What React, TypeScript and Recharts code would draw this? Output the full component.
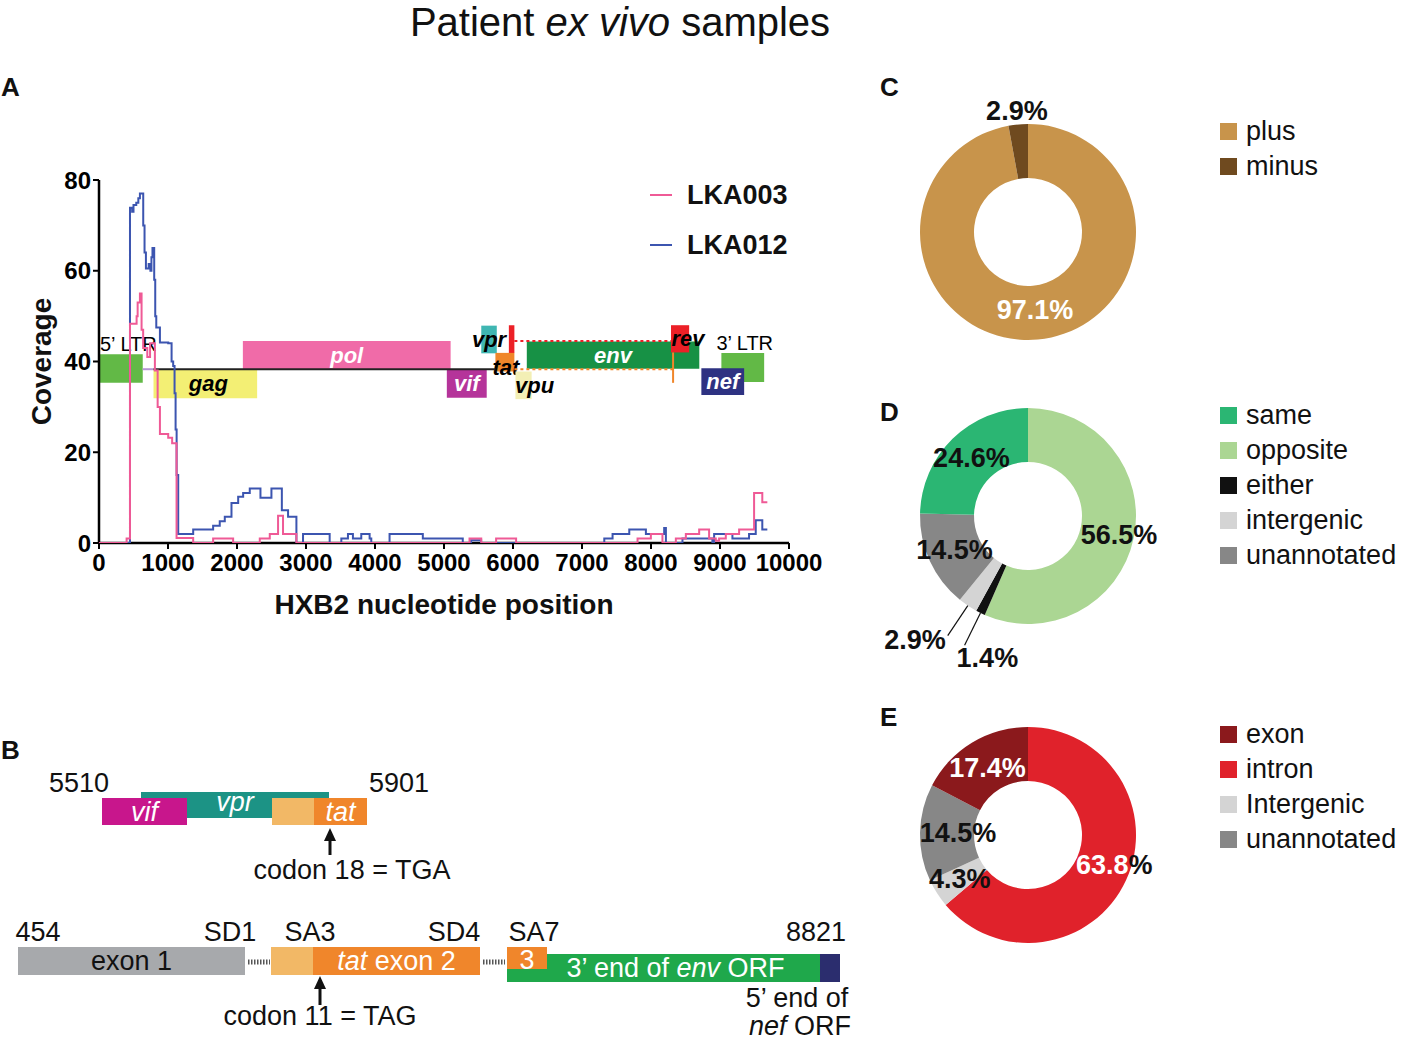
import React from 'react';
import {
  LineChart, Line, XAxis, YAxis, ReferenceArea, ReferenceLine, ReferenceDot, Legend,
  PieChart, Pie, Cell, ComposedChart,
} from 'recharts';

const FONT = '"Liberation Sans", Arial, Helvetica, sans-serif';

// ---- Panel A: read coverage along HXB2 (step positions / depth) ----
const lka003Pos = [0, 400, 449, 545, 560, 593, 617, 640, 700, 740, 810, 850, 883, 1003, 1060, 1124, 1365, 1654, 1944, 2330, 2475, 2595, 2667, 2861, 5370, 5540, 5755, 6045, 7805, 7998, 8166, 8360, 8505, 8698, 8842, 8939, 8987, 9084, 9277, 9494, 9613, 9686];
const lka003Cov = [0, 1, 48.3, 50, 53, 55, 47, 43, 41, 44, 38, 30, 24, 23.2, 22, 1.1, 0, 1, 0, 1, 2, 6, 2, 0, 1, 0, 1, 0, 1, 2, 0, 1, 2, 3, 1, 0.5, 1, 2, 3, 11, 9, 9];

const lka012Pos = [0, 449, 480, 500, 540, 570, 593, 641, 660, 680, 720, 745, 760, 775, 800, 815, 830, 883, 1003, 1052, 1075, 1095, 1110, 1125, 1148, 1365, 1654, 1750, 1823, 1920, 2017, 2089, 2185, 2340, 2499, 2650, 2740, 2861, 2957, 3343, 3512, 3608, 3680, 3801, 3922, 3946, 4211, 4693, 5272, 5393, 5538, 7323, 7443, 7685, 7926, 8191, 8216, 8456, 8890, 8915, 9180, 9421, 9518, 9613, 9686];
const lka012Cov = [0, 73.9, 73, 74.5, 75, 76, 77, 70, 64, 60.5, 61.5, 60, 63, 65, 58, 50, 47.5, 44.2, 44, 40, 39, 33, 25, 15, 2, 3, 3.8, 4.8, 5.8, 8.8, 10.2, 11, 12, 10, 12, 7.2, 5.8, 0, 2, 0, 1, 2, 1, 2, 1, 0, 2, 1, 0, 0.6, 0, 1, 2, 3, 2, 3.3, 0, 1, 0, 2, 1, 2, 5, 3, 3];

const xTicks = [0, 1000, 2000, 3000, 4000, 5000, 6000, 7000, 8000, 9000, 10000];
const yTicks = [0, 20, 40, 60, 80];

const lka003 = lka003Pos.map((pos, i) => ({ pos, cov: lka003Cov[i] }));
const lka012 = lka012Pos.map((pos, i) => ({ pos, cov: lka012Cov[i] }));

// genome map drawn over the coverage axis (HXB2 start/end, lo/hi on coverage scale)
const genes = [
  { id: 'ltr5', start: 0, end: 634, lo: 35.3, hi: 41.6 },
  { id: 'gag', start: 790, end: 2292, lo: 31.9, hi: 38.3 },
  { id: 'pol', start: 2085, end: 5096, lo: 38.3, hi: 44.5 },
  { id: 'vif', start: 5041, end: 5619, lo: 32.0, hi: 38.3 },
  { id: 'vpr', start: 5540, end: 5765, lo: 41.8, hi: 47.9 },
  { id: 'rev1', start: 5940, end: 6020, lo: 41.9, hi: 48.0 },
  { id: 'tat', start: 5745, end: 6020, lo: 37.8, hi: 41.9 },
  { id: 'vpu', start: 6035, end: 6270, lo: 31.7, hi: 37.8 },
  { id: 'env', start: 6200, end: 8700, lo: 38.4, hi: 44.4 },
  { id: 'rev', start: 8290, end: 8553, lo: 42.0, hi: 48.0 },
  { id: 'ltr3', start: 9020, end: 9640, lo: 35.5, hi: 41.9 },
  { id: 'nef', start: 8730, end: 9350, lo: 32.6, hi: 38.5 },
];
const connectors = [
  { from: 634, to: 790, at: 38.3, color: '#b696d6', dash: undefined },
  { from: 790, to: 5745, at: 38.3, color: '#222', dash: undefined },
  { from: 6020, to: 8290, at: 44.5, color: '#ec2027', dash: '3 3' },
  { from: 6020, to: 8320, at: 38.3, color: '#f0862a', dash: '3 3' },
];

const geneColor: Record<string, string> = {
  ltr5: '#62b946', gag: '#f3ef74', pol: '#f06ba8', vif: '#b5349a', vpr: '#3fb6b2', rev1: '#ec2027',
  tat: '#f0862a', vpu: '#f3efb5', env: '#179145', rev: '#ec2027', nef: '#2e3282', ltr3: '#62b946',
};
type GeneText = { text: string; fill: string; plain?: boolean; above?: boolean; dx?: number; dy?: number };
const geneText: Record<string, GeneText> = {
  ltr5: { text: '5’ LTR', fill: '#000', plain: true, above: true, dx: 1 },
  gag: { text: 'gag', fill: '#000', dx: 3 },
  pol: { text: 'pol', fill: '#fff' },
  vif: { text: 'vif', fill: '#fff' },
  vpr: { text: 'vpr', fill: '#000' },
  tat: { text: 'tat', fill: '#000', dx: 1, dy: 5 },
  vpu: { text: 'vpu', fill: '#000', dx: 11 },
  env: { text: 'env', fill: '#fff' },
  rev: { text: 'rev', fill: '#000', dx: 8 },
  nef: { text: 'nef', fill: '#fff' },
  ltr3: { text: '3’ LTR', fill: '#000', plain: true, above: true, dx: -5 },
};

const geneLabel = (id: string) => (props: any) => {
  const t = geneText[id];
  if (!t || !props.viewBox) return null;
  const { x, y, width, height } = props.viewBox;
  const tx = t.above ? x + (t.dx ?? 0) : x + width / 2 + (t.dx ?? 0);
  const ty = t.above ? y - 10 : y + height / 2 + (t.dy ?? 0);
  return (
    <text x={tx} y={ty} textAnchor={t.above ? 'start' : 'middle'} dominantBaseline="central"
      fill={t.fill} fontFamily={FONT} fontSize={t.plain ? 20 : 22}
      fontStyle={t.plain ? 'normal' : 'italic'} fontWeight={t.plain ? 400 : 700}>
      {t.text}
    </text>
  );
};

const seriesA = [
  { name: 'LKA003', color: '#ef5a96' },
  { name: 'LKA012', color: '#3c55b0' },
];

const legendA = () => (
  <div style={{ fontFamily: FONT }}>
    {seriesA.map(s => (
      <div key={s.name} style={{ display: 'flex', alignItems: 'center', height: 50 }}>
        <span style={{ width: 22, height: 2, background: s.color, marginRight: 15 }} />
        <span style={{ fontSize: 27, fontWeight: 700, color: '#111' }}>{s.name}</span>
      </div>
    ))}
  </div>
);

// ---- Panels C-E: donut charts ----
const strandNames = ['plus', 'minus'];
const strandPct = [97.1, 2.9];
const strandOrder = [0, 1];

const orientNames = ['same', 'opposite', 'either', 'intergenic', 'unannotated'];
const orientPct = [24.6, 56.5, 1.4, 2.9, 14.5];
const orientOrder = [1, 2, 3, 4, 0];

const regionNames = ['exon', 'intron', 'Intergenic', 'unannotated'];
const regionPct = [17.4, 63.8, 4.3, 14.5];
const regionOrder = [1, 2, 3, 0];

const sliceColor: Record<string, string> = {
  plus: '#c8944b', minus: '#6f4a1f',
  same: '#2bb673', opposite: '#abd693', either: '#111111', intergenic: '#d4d4d4', unannotated: '#878787',
  exon: '#8b191c', intron: '#e0222b', Intergenic: '#d4d4d4',
};

type Spec = { r?: number; fill: string; pctFill?: string; leader?: boolean; anchor?: 'start' | 'end'; dx?: number; dy?: number };
const strandSpecs: Record<string, Spec> = {
  plus: { r: 78, fill: '#fff' },
  minus: { r: 122, fill: '#111' },
};
const orientSpecs: Record<string, Spec> = {
  opposite: { r: 93, fill: '#111' },
  either: { leader: true, fill: '#111', anchor: 'start', dx: -8, dy: 13 },
  intergenic: { leader: true, fill: '#111', anchor: 'end', dx: -2, dy: 4 },
  unannotated: { r: 81, fill: '#111' },
  same: { r: 81, fill: '#111' },
};
const regionSpecs: Record<string, Spec> = {
  intron: { r: 95, fill: '#fff', pctFill: '#111', dy: -10 },
  Intergenic: { r: 81, fill: '#111' },
  unannotated: { r: 70, fill: '#111' },
  exon: { r: 78, fill: '#fff' },
};

const RAD = Math.PI / 180;
const polar = (cx: number, cy: number, r: number, a: number) => ({ x: cx + r * Math.cos(-a * RAD), y: cy + r * Math.sin(-a * RAD) });

function Donut({ names, values, order, specs, top }: { names: string[]; values: number[]; order: number[]; specs: Record<string, Spec>; top: number }) {
  const data = order.map(i => ({ name: names[i], value: values[i] }));
  const renderLabel = (p: any) => {
    const d = data[p.index];
    const s = specs[d.name];
    const txt = d.value.toFixed(1);
    let x: number, y: number;
    const anchor: string = s.anchor ?? 'middle';
    let line: React.ReactNode = null;
    if (s.leader) {
      const a = polar(p.cx, p.cy, p.outerRadius, p.midAngle);
      const b = polar(p.cx, p.cy, p.outerRadius + 36, p.midAngle);
      line = <line x1={a.x} y1={a.y} x2={b.x} y2={b.y} stroke="#111" strokeWidth={1.2} />;
      x = b.x + (s.dx ?? 0);
      y = b.y + (s.dy ?? 0);
    } else {
      const c = polar(p.cx, p.cy, s.r ?? 81, p.midAngle);
      x = c.x + (s.dx ?? 0);
      y = c.y + (s.dy ?? 0);
    }
    return (
      <g key={`lab-${p.index}`}>
        {line}
        <text x={x} y={y} textAnchor={anchor} dominantBaseline="central" fontFamily={FONT}
          fontSize={27} fontWeight={700} fill={s.fill}>
          {txt}<tspan fill={s.pctFill ?? s.fill}>%</tspan>
        </text>
      </g>
    );
  };
  const legend = () => (
    <div style={{ fontFamily: FONT }}>
      {names.map(n => (
        <div key={n} style={{ display: 'flex', alignItems: 'center', height: 35 }}>
          <span style={{ width: 17, height: 17, background: sliceColor[n], marginRight: 9 }} />
          <span style={{ fontSize: 27, color: '#111', whiteSpace: 'nowrap' }}>{n}</span>
        </div>
      ))}
    </div>
  );
  return (
    <div style={{ position: 'absolute', left: 880, top }}>
      <PieChart width={523} height={310} margin={{ top: 0, right: 0, bottom: 0, left: 0 }}>
        <Pie data={data} dataKey="value" nameKey="name" cx={148} cy={145} innerRadius={54} outerRadius={108}
          startAngle={90} endAngle={-270} stroke="none" label={renderLabel} labelLine={false}
          isAnimationActive={false}>
          {data.map(d => <Cell key={d.name} fill={sliceColor[d.name]} />)}
        </Pie>
        <Legend layout="vertical" align="center" verticalAlign="middle" content={legend}
          wrapperStyle={{ left: 340, top: 27, width: 190 }} />
      </PieChart>
    </div>
  );
}

// ---- Panel B: splicing schematic (schematic units) ----
type Seg = [string, boolean];
const bBlocks: { x1: number; x2: number; y1: number; y2: number; fill: string; label?: Seg[]; color?: string; dx?: number; dy?: number }[] = [
  { x1: 141, x2: 329, y1: 52, y2: 78, fill: '#1c9385', label: [['vpr', true]], color: '#fff', dy: -3 },
  { x1: 102, x2: 187, y1: 58, y2: 85, fill: '#c8168c', label: [['vif', true]], color: '#fff' },
  { x1: 272, x2: 314, y1: 58, y2: 85, fill: '#f2b866' },
  { x1: 314, x2: 367, y1: 58, y2: 85, fill: '#f0862b', label: [['tat', true]], color: '#fff' },
  { x1: 18, x2: 245, y1: 207, y2: 235, fill: '#a7a9ac', label: [['exon 1', false]], color: '#111', dx: 0 },
  { x1: 271, x2: 313, y1: 207, y2: 235, fill: '#f2b866' },
  { x1: 313, x2: 480, y1: 207, y2: 235, fill: '#f0862b', label: [['tat', true], [' exon 2', false]], color: '#fff' },
  { x1: 507, x2: 820, y1: 214, y2: 242, fill: '#1fa84b', label: [['3’ end of ', false], ['env', true], [' ORF', false]], color: '#fff', dx: 12 },
  { x1: 820, x2: 840, y1: 214, y2: 242, fill: '#2b2d6e' },
  { x1: 507, x2: 547, y1: 207, y2: 229, fill: '#f0862b', label: [['3', false]], color: '#fff', dy: 2 },
];
const bGaps = [
  { from: 248, to: 270, at: 222 },
  { from: 483, to: 505, at: 222 },
];
const bArrows = [
  { x: 330, tail: 115, tip: 88 },
  { x: 320, tail: 265, tip: 236 },
];
const bTexts: { x: number; y: number; segs: Seg[] }[] = [
  { x: 79, y: 43, segs: [['5510', false]] },
  { x: 399, y: 43, segs: [['5901', false]] },
  { x: 352, y: 130, segs: [['codon 18 = TGA', false]] },
  { x: 38, y: 192, segs: [['454', false]] },
  { x: 230, y: 192, segs: [['SD1', false]] },
  { x: 310, y: 192, segs: [['SA3', false]] },
  { x: 454, y: 192, segs: [['SD4', false]] },
  { x: 534, y: 192, segs: [['SA7', false]] },
  { x: 816, y: 192, segs: [['8821', false]] },
  { x: 320, y: 276, segs: [['codon 11 = TAG', false]] },
  { x: 797, y: 258, segs: [['5’ end of', false]] },
  { x: 800, y: 286, segs: [['nef', true], [' ORF', false]] },
];

const segText = (x: number, y: number, segs: Seg[], fill: string) => (
  <text x={x} y={y} textAnchor="middle" dominantBaseline="central" fontFamily={FONT} fontSize={27} fill={fill}>
    {segs.map(([t, it], i) => <tspan key={i} fontStyle={it ? 'italic' : 'normal'}>{t}</tspan>)}
  </text>
);

function PanelB() {
  return (
    <div style={{ position: 'absolute', left: 0, top: 740 }}>
      <ComposedChart width={870} height={303} data={[]} margin={{ top: 0, right: 0, bottom: 0, left: 0 }}>
        <XAxis type="number" dataKey="x" domain={[0, 870]} hide allowDataOverflow />
        <YAxis type="number" dataKey="y" domain={[0, 303]} reversed hide allowDataOverflow />
        {bBlocks.map((b, i) => (
          <ReferenceArea key={`b${i}`} x1={b.x1} x2={b.x2} y1={b.y1} y2={b.y2} fill={b.fill} fillOpacity={1}
            stroke="none" ifOverflow="visible"
            label={b.label ? (p: any) => segText(p.viewBox.x + p.viewBox.width / 2 + (b.dx ?? 0), p.viewBox.y + p.viewBox.height / 2 + (b.dy ?? 0), b.label!, b.color!) : undefined} />
        ))}
        {bGaps.map((g, i) => (
          <ReferenceLine key={`g${i}`} segment={[{ x: g.from, y: g.at }, { x: g.to, y: g.at }]} stroke="#555"
            strokeWidth={5} strokeDasharray="1.5 1.5" ifOverflow="visible" />
        ))}
        {bArrows.map((a, i) => (
          <ReferenceLine key={`as${i}`} segment={[{ x: a.x, y: a.tail }, { x: a.x, y: a.tip + 10 }]} stroke="#111"
            strokeWidth={3} ifOverflow="visible" />
        ))}
        {bArrows.map((a, i) => (
          <ReferenceDot key={`ah${i}`} x={a.x} y={a.tip} r={1} ifOverflow="visible"
            shape={(p: any) => <polygon points={`${p.cx},${p.cy} ${p.cx - 6},${p.cy + 13} ${p.cx + 6},${p.cy + 13}`} fill="#111" />} />
        ))}
        {bTexts.map((t, i) => (
          <ReferenceDot key={`t${i}`} x={t.x} y={t.y} r={1} fill="none" stroke="none" ifOverflow="visible"
            label={(p: any) => segText(p.viewBox.x + p.viewBox.width / 2, p.viewBox.y + p.viewBox.height / 2, t.segs, '#111')} />
        ))}
      </ComposedChart>
    </div>
  );
}

const letter = (ch: string, left: number, top: number) => (
  <div style={{ position: 'absolute', left, top, fontFamily: FONT, fontWeight: 700, fontSize: 26, lineHeight: '26px', color: '#111' }}>{ch}</div>
);

const chartA = { width: 840, height: 640, margin: { top: 180, right: 51, bottom: 37, left: 30 } };

export default function App() {
  const axisStyle = { fill: '#000', fontSize: 24, fontWeight: 700, fontFamily: FONT };
  return (
    <div style={{ position: 'absolute', left: 0, top: 0, width: 1403, height: 1043, background: '#fff', fontFamily: FONT, overflow: 'hidden' }}>
      <div style={{ position: 'absolute', left: 0, width: 1240, top: 0, textAlign: 'center', fontSize: 40, lineHeight: 'normal', color: '#111', whiteSpace: 'nowrap' }}>
        Patient <i>ex vivo</i> samples
      </div>
      {letter('A', 1, 74)}
      {letter('B', 1, 737)}
      {letter('C', 880, 74)}
      {letter('D', 880, 399)}
      {letter('E', 880, 704)}

      {/* axes and genome map */}
      <div style={{ position: 'absolute', left: 0, top: 0 }}>
        <LineChart {...chartA}>
          <XAxis dataKey="pos" type="number" domain={[0, 10000]} ticks={xTicks} interval={0} allowDataOverflow
            axisLine={{ stroke: '#000', strokeWidth: 2.5 }} tickLine={{ stroke: '#000', strokeWidth: 2 }}
            tickSize={6} tickMargin={5} tick={axisStyle} height={60}
            label={{ value: 'HXB2 nucleotide position', position: 'insideBottom', offset: -11, fill: '#111', fontSize: 28, fontWeight: 700, fontFamily: FONT }} />
          <YAxis type="number" domain={[0, 80]} ticks={yTicks} interval={0} width={69} allowDataOverflow
            axisLine={{ stroke: '#000', strokeWidth: 2.5 }} tickLine={{ stroke: '#000', strokeWidth: 2 }}
            tickSize={6} tick={axisStyle}
            label={{ value: 'Coverage', angle: -90, position: 'insideLeft', offset: 11, fill: '#111', fontSize: 28, fontWeight: 700, fontFamily: FONT, style: { textAnchor: 'middle' } }} />
          {genes.map(g => (
            <ReferenceArea key={g.id} x1={g.start} x2={g.end} y1={g.lo} y2={g.hi} fill={geneColor[g.id]}
              fillOpacity={1} stroke="none" ifOverflow="visible" label={geneLabel(g.id)} />
          ))}
          {connectors.map((c, i) => (
            <ReferenceLine key={`c${i}`} segment={[{ x: c.from, y: c.at }, { x: c.to, y: c.at }]} stroke={c.color}
              strokeWidth={2} strokeDasharray={c.dash} ifOverflow="visible" />
          ))}
          <ReferenceLine segment={[{ x: 8320, y: 35.3 }, { x: 8320, y: 42 }]} stroke="#f0862a" strokeWidth={2} ifOverflow="visible" />
        </LineChart>
      </div>

      {/* coverage lines drawn over the genome map */}
      <div style={{ position: 'absolute', left: 0, top: 0 }}>
        <LineChart {...chartA}>
          <XAxis dataKey="pos" type="number" domain={[0, 10000]} ticks={xTicks} allowDataOverflow
            axisLine={false} tickLine={false} tick={false} height={60} />
          <YAxis type="number" domain={[0, 80]} ticks={yTicks} width={69} allowDataOverflow
            axisLine={false} tickLine={false} tick={false} />
          <Line data={lka012} dataKey="cov" name="LKA012" type="stepAfter" stroke={seriesA[1].color} strokeWidth={2}
            dot={false} activeDot={false} isAnimationActive={false} />
          <Line data={lka003} dataKey="cov" name="LKA003" type="stepAfter" stroke={seriesA[0].color} strokeWidth={2}
            dot={false} activeDot={false} isAnimationActive={false} />
          <Legend layout="vertical" align="center" verticalAlign="middle" content={legendA}
            wrapperStyle={{ left: 650, top: 170, width: 200 }} />
        </LineChart>
      </div>

      <PanelB />

      <Donut names={strandNames} values={strandPct} order={strandOrder} specs={strandSpecs} top={87} />
      <Donut names={orientNames} values={orientPct} order={orientOrder} specs={orientSpecs} top={371} />
      <Donut names={regionNames} values={regionPct} order={regionOrder} specs={regionSpecs} top={690} />
    </div>
  );
}
